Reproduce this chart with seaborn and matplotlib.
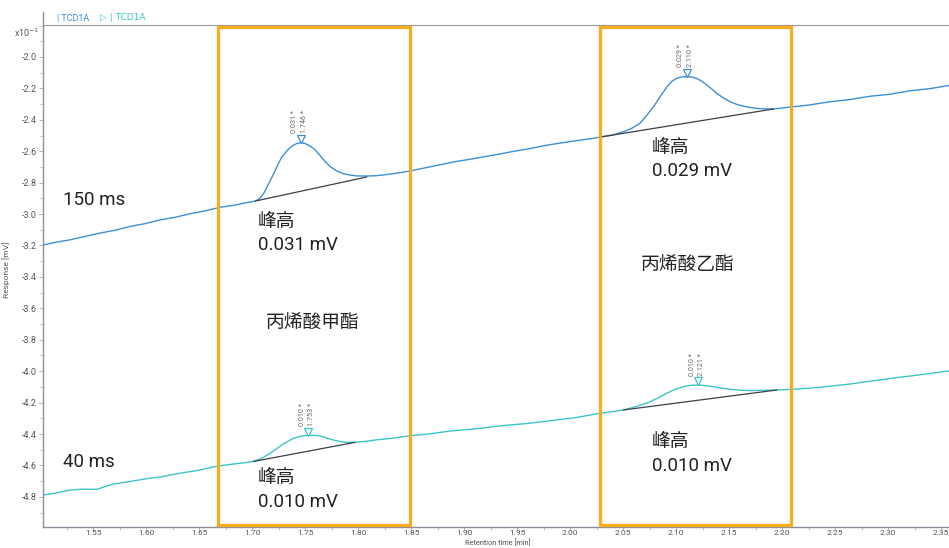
import matplotlib
matplotlib.use("Agg")
import matplotlib.pyplot as plt
import matplotlib.transforms as mtransforms
import pandas as pd
import seaborn as sns
from matplotlib.patches import Rectangle
from matplotlib.ticker import MultipleLocator, FormatStrFormatter

# ---------------- data ----------------
# 150 ms trace (values in x10^-1 mV)
t_150 = [1.5028, 1.5150, 1.5283, 1.5420, 1.5566, 1.5700, 1.5849, 1.5990, 1.6132, 1.6270,
         1.6415, 1.6550, 1.6698, 1.6860, 1.6950,
         1.7031, 1.7070, 1.7107, 1.7150, 1.7201, 1.7240, 1.7280, 1.7330, 1.7375, 1.7420,
         1.7460, 1.7500, 1.7547, 1.7600, 1.7642, 1.7690, 1.7736, 1.7800, 1.7861, 1.7930,
         1.7988, 1.8082, 1.8160, 1.8239,
         1.8350, 1.8490, 1.8630, 1.8774, 1.8910, 1.9057, 1.9200, 1.9340, 1.9480, 1.9623,
         1.9760, 1.9906, 2.0100, 2.0200,
         2.0283, 2.0400, 2.0503, 2.0580, 2.0660, 2.0720, 2.0786, 2.0850, 2.0912, 2.0960,
         2.1006, 2.1055, 2.1101, 2.1150, 2.1195, 2.1245, 2.1290, 2.1340, 2.1384, 2.1450,
         2.1510, 2.1570, 2.1635, 2.1700, 2.1761, 2.1840, 2.1918,
         2.2075, 2.2250, 2.2453, 2.2640, 2.2830, 2.3020, 2.3208, 2.3400, 2.3575]
r_150 = [-3.197, -3.179, -3.164, -3.143, -3.121, -3.104, -3.079, -3.061, -3.037, -3.021,
         -2.998, -2.981, -2.957, -2.940, -2.927,
         -2.917, -2.902, -2.872, -2.816, -2.748, -2.690, -2.638, -2.597, -2.568, -2.551,
         -2.546, -2.551, -2.566, -2.594, -2.628, -2.665, -2.697, -2.726, -2.743, -2.752,
         -2.757, -2.758, -2.756, -2.751,
         -2.741, -2.726, -2.706, -2.686, -2.667, -2.651, -2.634, -2.617, -2.599, -2.583,
         -2.564, -2.548, -2.529, -2.520,
         -2.510, -2.497, -2.476, -2.455, -2.422, -2.375, -2.318, -2.252, -2.192, -2.155,
         -2.135, -2.127, -2.125, -2.128, -2.137, -2.155, -2.178, -2.205, -2.232, -2.262,
         -2.285, -2.301, -2.313, -2.322, -2.327, -2.330, -2.331,
         -2.319, -2.306, -2.285, -2.271, -2.250, -2.237, -2.215, -2.201, -2.181]

# 40 ms trace (values in x10^-1 mV)
t_40 = [1.5028, 1.5150, 1.5283, 1.5400, 1.5538, 1.5600, 1.5689, 1.5780, 1.5877, 1.6038,
        1.6150, 1.6274, 1.6400, 1.6509, 1.6600, 1.6679, 1.6840, 1.6930,
        1.7012, 1.7090, 1.7170, 1.7230, 1.7280, 1.7340, 1.7390, 1.7460, 1.7530, 1.7590,
        1.7642, 1.7700, 1.7767, 1.7830, 1.7893, 1.7972,
        1.8080, 1.8176, 1.8340, 1.8490, 1.8680, 1.8868, 1.9100, 1.9340, 1.9580, 1.9811,
        2.0050, 2.0283, 2.0400,
        2.0503, 2.0610, 2.0723, 2.0820, 2.0912, 2.0990, 2.1069, 2.1140, 2.1210, 2.1280,
        2.1352, 2.1430, 2.1509, 2.1600, 2.1698, 2.1820, 2.1950,
        2.2107, 2.2264, 2.2450, 2.2642, 2.2800, 2.2925, 2.3080, 2.3208, 2.3400, 2.3575]
r_40 = [-4.788, -4.776, -4.757, -4.751, -4.752, -4.737, -4.719, -4.710, -4.699, -4.681,
        -4.672, -4.655, -4.641, -4.630, -4.614, -4.604, -4.590, -4.583,
        -4.575, -4.555, -4.523, -4.495, -4.470, -4.446, -4.428, -4.414, -4.408, -4.408,
        -4.412, -4.425, -4.438, -4.448, -4.453, -4.453,
        -4.446, -4.437, -4.426, -4.411, -4.399, -4.381, -4.368, -4.348, -4.334, -4.316,
        -4.296, -4.268, -4.258,
        -4.247, -4.228, -4.204, -4.174, -4.141, -4.116, -4.099, -4.090, -4.088, -4.092,
        -4.099, -4.108, -4.115, -4.121, -4.124, -4.122, -4.120,
        -4.115, -4.108, -4.096, -4.082, -4.066, -4.056, -4.041, -4.031, -4.014, -3.999]

# integration baselines: (t_start, r_start, t_end, r_end)
baselines_150 = [(1.7031, -2.917, 1.8082, -2.764), (2.0283, -2.510, 2.1918, -2.331)]
baselines_40 = [(1.7012, -4.575, 1.7972, -4.453), (2.0503, -4.247, 2.1950, -4.120)]

# peak apexes and labels
peak_t = [1.746, 2.110, 1.753, 2.121]
peak_r = [-2.546, -2.125, -4.408, -4.088]
peak_height = ["0.031", "0.029", "0.010", "0.010"]
peak_time = ["1.746", "2.110", "1.753", "2.121"]
peak_trace = ["150", "150", "40", "40"]

# highlighted windows (retention time ranges)
window_t = [(1.668, 1.849), (2.028, 2.2085)]
window_names = ["丙烯酸甲酯", "丙烯酸乙酯"]
height_texts_150 = ["0.031 mV", "0.029 mV"]
height_texts_40 = ["0.010 mV", "0.010 mV"]

# ---------------- style ----------------
sns.set_theme(style="white")
plt.rcParams["font.family"] = ["Roboto", "Noto Sans CJK SC", "DejaVu Sans"]

BLUE = "#3c8fd6"
TEAL = "#3cc4c6"
ORANGE = "#f9ad1d"
GRAY = "#666666"
BASE = "#3a404a"
DARK = "#222222"

fig = plt.figure(figsize=(9.49, 5.48), dpi=100)
ax = fig.add_axes([43 / 949, 21 / 548, 906 / 949, 515 / 548])

df150 = pd.DataFrame({"t": t_150, "r": r_150})
df40 = pd.DataFrame({"t": t_40, "r": r_40})
sns.lineplot(data=df150, x="t", y="r", ax=ax, color=BLUE, lw=1.0, estimator=None)
sns.lineplot(data=df40, x="t", y="r", ax=ax, color=TEAL, lw=1.0, estimator=None)

for (t0, r0, t1, r1) in baselines_150 + baselines_40:
    ax.plot([t0, t1], [r0, r1], color=BASE, lw=0.9)

shift = mtransforms.ScaledTranslation(0, 3.7 / 100, fig.dpi_scale_trans)
for t, r, h, tm, tr in zip(peak_t, peak_r, peak_height, peak_time, peak_trace):
    col = BLUE if tr == "150" else TEAL
    ax.plot([t], [r], marker="v", ms=5.5, mfc="white", mec=col, mew=0.9,
            linestyle="none", transform=ax.transData + shift)
    ax.annotate(h + " *", xy=(t, r), xytext=(-4.3, 6.8), textcoords="offset points",
                rotation=90, ha="center", va="bottom", fontsize=5.2, color=GRAY)
    ax.annotate(tm + " *", xy=(t, r), xytext=(2.6, 6.8), textcoords="offset points",
                rotation=90, ha="center", va="bottom", fontsize=5.2, color=GRAY)

# windows
for (t0, t1) in window_t:
    ax.add_patch(Rectangle((t0, -4.979), t1 - t0, 4.979 - 1.809, fill=False,
                           edgecolor=ORANGE, lw=2.3, clip_on=False, zorder=5))

FS = 13.5
ax.text(1.5217, -2.91, "150 ms", fontsize=FS, va="center", ha="left", color=DARK)
ax.text(1.5217, -4.578, "40 ms", fontsize=FS, va="center", ha="left", color=DARK)

ax.text(1.7057, -3.05, "峰高", fontsize=FS, va="center", ha="left", color=DARK)
ax.text(1.7057, -3.197, height_texts_150[0], fontsize=FS, va="center", ha="left", color=DARK)
ax.text(2.0774, -2.579, "峰高", fontsize=FS, va="center", ha="left", color=DARK)
ax.text(2.0774, -2.726, height_texts_150[1], fontsize=FS, va="center", ha="left", color=DARK)

ax.text(1.7132, -3.693, window_names[0], fontsize=FS, va="center", ha="left", color=DARK)
ax.text(2.067, -3.324, window_names[1], fontsize=FS, va="center", ha="left", color=DARK)

ax.text(1.7057, -4.680, "峰高", fontsize=FS, va="center", ha="left", color=DARK)
ax.text(1.7057, -4.833, height_texts_40[0], fontsize=FS, va="center", ha="left", color=DARK)
ax.text(2.0774, -4.451, "峰高", fontsize=FS, va="center", ha="left", color=DARK)
ax.text(2.0774, -4.604, height_texts_40[1], fontsize=FS, va="center", ha="left", color=DARK)

# axes limits / ticks
ax.set_xlim(1.5028, 2.3575)
ax.set_ylim(-4.992, -1.7136)
ax.xaxis.set_major_locator(MultipleLocator(0.05))
ax.xaxis.set_minor_locator(MultipleLocator(0.025))
ax.xaxis.set_major_formatter(FormatStrFormatter("%.2f"))
ax.set_yticks([-2.0 - 0.2 * i for i in range(15)])
ax.yaxis.set_minor_locator(MultipleLocator(0.1))
ax.yaxis.set_major_formatter(FormatStrFormatter("%.1f"))
ax.tick_params(axis="y", which="major", labelsize=6.5, labelcolor="#555555",
               color="#aaaaaa", length=3, width=0.6, pad=1.5, left=True)
ax.tick_params(axis="x", which="major", labelsize=6.0, labelcolor="#555555",
               color="#aaaaaa", length=2, width=0.6, pad=0.5, bottom=True)
ax.tick_params(axis="both", which="minor", color="#aaaaaa", length=2, width=0.5,
               bottom=True, left=True)
for s in ["top", "right"]:
    ax.spines[s].set_visible(False)
for s in ["left", "bottom"]:
    ax.spines[s].set_color("#8a8f9a")
    ax.spines[s].set_linewidth(1.0)
ax.grid(False)

ax.set_xlabel("Retention time [min]", fontsize=5.3, color="#555555")
ax.set_ylabel("Response [mV]", fontsize=6, color="#555555")
ax.xaxis.set_label_coords((498 - 43) / 906, -12.5 / 515)
ax.yaxis.set_label_coords(-33 / 906, 0.5)

# legend strip
ax.axhline(-1.796, color="#999999", lw=0.8)
ax.text((57 - 43) / 906, (527 - 18) / 515, "| TCD1A", transform=ax.transAxes,
        fontsize=6.5, color=BLUE, va="center", ha="left")
ax.text((100 - 43) / 906, (527 - 18) / 515, "▷ | TCD1A", transform=ax.transAxes,
        fontsize=6.5, color=TEAL, va="center", ha="left",
        family=["DejaVu Sans"])
fig.text(14 / 949, 1 - 33 / 548, r"x10$^{-1}$", fontsize=6.5, color="#555555",
         va="center", ha="left")

fig.savefig("out.png", dpi=100)
